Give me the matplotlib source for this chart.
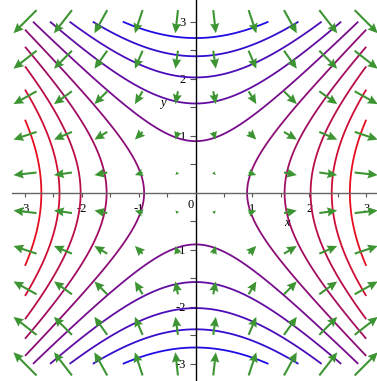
import numpy as np
import matplotlib
matplotlib.use("Agg")
import matplotlib.pyplot as plt

plt.rcParams['font.family'] = ['Liberation Serif', 'DejaVu Serif']
plt.rcParams['axes.unicode_minus'] = False

# arrow grid (10 x 10 over [-3, 3])
grid_x = [-3.0, -2.333, -1.667, -1.0, -0.333, 0.333, 1.0, 1.667, 2.333, 3.0]
grid_y = [-3.0, -2.333, -1.667, -1.0, -0.333, 0.333, 1.0, 1.667, 2.333, 3.0]

# contour levels of x^2 - y^2
levels = [-7.36, -5.73, -4.09, -2.45, -0.82, 0.82, 2.45, 4.09, 5.73, 7.36]

major_ticks = [-3, -2, -1, 1, 2, 3]
major_labels = ['-3', '-2', '-1', '1', '2', '3']
minor_ticks = [-2.5, -1.5, -0.5, 0.5, 1.5, 2.5]

fig = plt.figure(figsize=(3.77, 3.81), dpi=100)
ax = fig.add_axes([0, 0, 1, 1])
ax.set_xlim(-3.44, 3.19)
ax.set_ylim(-3.30, 3.38)

# level curves, blue -> red
xx = np.linspace(-3, 3, 400)
X, Y = np.meshgrid(xx, xx)
Z = X**2 - Y**2
cols = [(0.12 + 0.78 * t, 0.05, 0.90 - 0.78 * t) for t in np.linspace(0, 1, len(levels))]
ax.contour(X, Y, Z, levels=levels, colors=cols, linewidths=1.3, zorder=2)

# gradient field (x, -y), arrows centred on grid points
GX, GY = np.meshgrid(grid_x, grid_y)
U, V = GX, -GY
ax.quiver(GX, GY, U, V, pivot='mid', angles='xy', scale_units='xy', scale=7.4,
          color='#3c9432', width=0.0055, headwidth=4.4, headlength=4.8,
          headaxislength=4.3, zorder=3)

# axes through the origin
for side in ['top', 'right']:
    ax.spines[side].set_visible(False)
ax.spines['left'].set_position(('data', 0))
ax.spines['bottom'].set_position(('data', 0))
ax.spines['bottom'].set_bounds(-3.23, 3.23)
ax.spines['left'].set_bounds(-3.28, 3.38)
ax.spines['bottom'].set_color('#666666')
ax.spines['left'].set_color('black')
ax.spines['bottom'].set_linewidth(1.0)
ax.spines['left'].set_linewidth(1.0)

ax.set_xticks(major_ticks)
ax.set_xticklabels(major_labels)
ax.set_xticks(minor_ticks, minor=True)
ax.set_yticks(major_ticks)
ax.set_yticklabels(major_labels)
ax.set_yticks(minor_ticks, minor=True)
ax.tick_params(which='both', direction='out', length=3, width=0.8,
               color='#555555', labelsize=9, pad=4)
ax.tick_params(axis='y', which='both', length=4, pad=3)

ax.text(-0.09, -0.22, '0', fontsize=9, ha='center', va='center')
ax.text(1.6, -0.53, 'x', fontsize=9, style='italic', ha='center', va='center')
ax.text(-0.58, 1.58, 'y', fontsize=9, style='italic', ha='center', va='center')

fig.savefig('out.png', dpi=100)
